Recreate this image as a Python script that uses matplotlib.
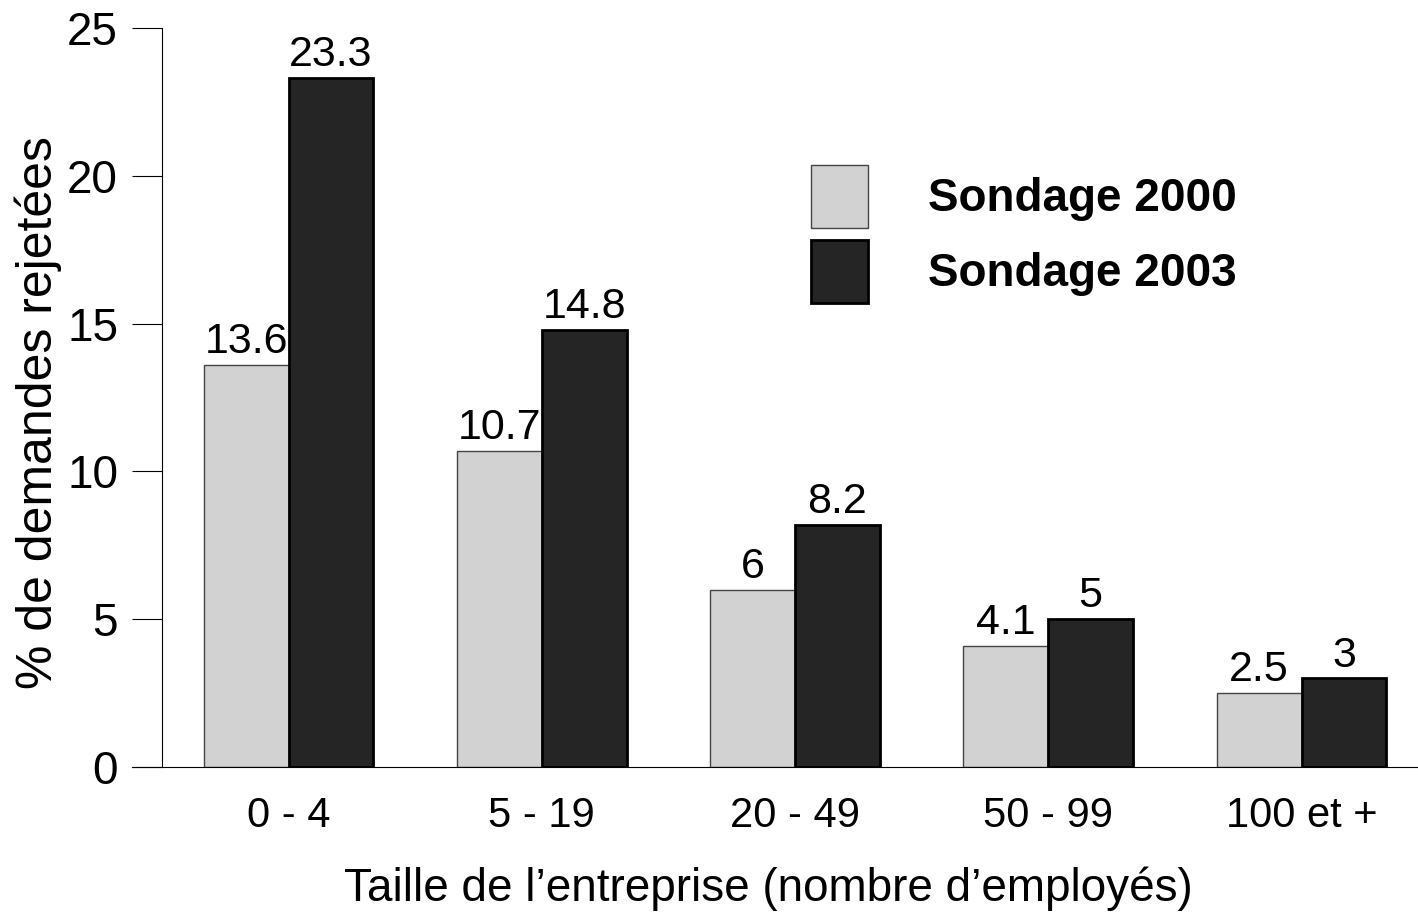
import matplotlib
matplotlib.use("Agg")
import matplotlib.pyplot as plt
import numpy as np

plt.rcParams['font.family'] = ['Liberation Sans', 'DejaVu Sans']

# données
categories = ["0 - 4", "5 - 19", "20 - 49", "50 - 99", "100 et +"]
sondage_2000 = [13.6, 10.7, 6, 4.1, 2.5]
sondage_2003 = [23.3, 14.8, 8.2, 5, 3]
series_names = ["Sondage 2000", "Sondage 2003"]
yticks = [0, 5, 10, 15, 20, 25]

fig = plt.figure(figsize=(14.18, 9.18), dpi=100)
ax = fig.add_axes([162 / 1418, 1 - 767 / 918, 1 - 162 / 1418, (767 - 28) / 918])

x = np.arange(len(categories))
w = 0.335
b1 = ax.bar(x - w / 2, sondage_2000, w, color='#d2d2d2', edgecolor='#444444', linewidth=1)
b2 = ax.bar(x + w / 2, sondage_2003, w, color='#252525', edgecolor='black', linewidth=2)

# étiquettes de valeurs
for bars, vals in [(b1, sondage_2000), (b2, sondage_2003)]:
    for r, v in zip(bars, vals):
        ax.annotate(f"{v:g}", (r.get_x() + r.get_width() / 2, v),
                    xytext=(0, 2), textcoords='offset points',
                    ha='center', va='bottom', fontsize=31)

ax.set_xlim(-0.5, 4.46)
ax.set_ylim(0, 25)
ax.set_yticks(yticks)
ax.set_xticks(x)
ax.set_xticklabels(categories)
ax.tick_params(axis='y', labelsize=33, length=21.6, width=0.8, pad=10)
ax.tick_params(axis='x', labelsize=30, length=0, pad=21)

for s in ['top', 'right']:
    ax.spines[s].set_visible(False)
ax.spines['left'].set_linewidth(0.8)
ax.spines['bottom'].set_linewidth(0.8)
ax.spines['bottom'].set_bounds(-0.5 - 30 / 253.5, 4.46)
ax.spines['bottom'].set_clip_on(False)

ax.set_ylabel("% de demandes rejetées", fontsize=36)
ax.yaxis.set_label_coords(-0.08, 0.48)
ax.set_xlabel("Taille de l\u2019entreprise (nombre d\u2019employés)", fontsize=33)
ax.xaxis.set_label_coords(0.4825, -0.135)

leg = ax.legend([b1, b2], series_names, loc='upper left',
                bbox_to_anchor=(811 / 1418, 1 - 165 / 918),
                bbox_transform=fig.transFigure, frameon=False,
                prop={'size': 33, 'weight': 'bold'},
                handlelength=1.24, handleheight=1.738, labelspacing=0.26,
                handletextpad=1.31, borderpad=0, borderaxespad=0)

fig.savefig("out.png", dpi=100)
